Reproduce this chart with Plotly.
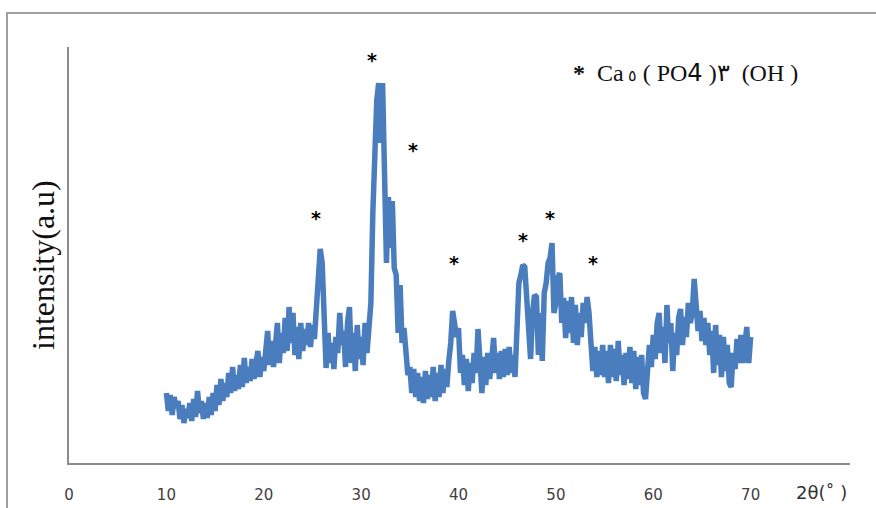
import plotly.graph_objects as go

# 2-theta grid (degrees), 0.2 step from 10 to 70
two_theta = [round(10 + 0.2 * i, 1) for i in range(301)]

# intensity (a.u.)
intensity = [
    # 10.0 - 14.8
    70, 52, 68, 48, 66, 55, 62, 44, 58, 40, 54, 45, 60, 42, 64, 46, 72, 50, 62, 44, 60, 45, 66, 48, 70,
    # 15.0 - 19.8
    52, 78, 58, 84, 62, 80, 66, 90, 70, 96, 72, 88, 74, 98, 76, 105, 80, 96, 82, 104, 84, 100, 112, 86, 106,
    # 20.0 - 24.8
    92, 118, 132, 98, 122, 96, 126, 140, 100, 130, 110, 145, 112, 156, 120, 150, 108, 136, 104, 140, 112, 134, 118, 140, 116,
    # 25.0 - 29.8
    138, 124, 158, 170, 214, 200, 150, 95, 130, 100, 120, 94, 126, 110, 150, 118, 132, 96, 140, 156, 100, 130, 92, 138, 104,
    # 30.0 - 34.8
    126, 98, 140, 110, 135, 160, 250, 330, 362, 380, 320, 380, 250, 200, 266, 215, 262, 195, 188, 130, 178, 120, 135, 105, 88,
    # 35.0 - 39.8
    96, 70, 94, 66, 90, 62, 86, 60, 92, 64, 88, 66, 96, 62, 90, 66, 98, 70, 94, 76, 102, 120, 152, 140, 126,
    # 40.0 - 44.8
    135, 90, 108, 78, 104, 72, 100, 80, 110, 90, 134, 96, 70, 106, 78, 110, 84, 102, 125, 90, 110, 84, 112, 86, 114,
    # 45.0 - 49.8
    88, 116, 90, 108, 86, 140, 180, 188, 198, 196, 160, 116, 104, 150, 168, 166, 108, 150, 102, 170, 180, 200, 205, 220, 150,
    # 50.0 - 54.8
    160, 185, 190, 140, 165, 125, 162, 130, 166, 120, 158, 118, 150, 126, 160, 140, 166, 150, 120, 92, 116, 86, 112, 88, 118,
    # 55.0 - 59.8
    86, 112, 80, 118, 86, 114, 82, 122, 88, 108, 78, 110, 84, 116, 80, 112, 74, 106, 78, 108, 70, 64, 100, 118, 96,
    # 60.0 - 64.8
    128, 104, 140, 150, 110, 136, 100, 158, 120, 140, 92, 130, 108, 145, 154, 118, 146, 126, 160, 140, 150, 184, 150, 132, 152,
    # 65.0 - 70.0
    122, 145, 118, 140, 108, 132, 90, 138, 98, 128, 86, 126, 92, 118, 80, 76, 110, 94, 124, 100, 128, 100, 122, 136, 100, 126,
]

# x-axis tick labels
x_ticks = [0, 10, 20, 30, 40, 50, 60, 70]

# peak markers (2-theta, label height)
peak_pos = [31.1, 35.3, 25.4, 39.5, 46.6, 49.4, 53.8]
peak_height = [406, 316, 248, 203, 226, 248, 203]

assert len(two_theta) == len(intensity)

fig = go.Figure()
fig.add_trace(go.Scatter(
    x=two_theta, y=intensity, mode="lines",
    line=dict(color="#4a7dbd", width=5.5),
    hoverinfo="skip", showlegend=False,
))

for px, py in zip(peak_pos, peak_height):
    fig.add_annotation(x=px, y=py, text="<b>*</b>", showarrow=False, yshift=-3,
                       font=dict(family="DejaVu Sans", size=19, color="#000000"))

fig.add_annotation(
    xref="paper", yref="paper", x=0.789, y=0.937,
    text="<b>*</b>  Ca<span style='font-size:16px'> ٥</span> ( PO<span style='font-family:DejaVu Sans'>4</span> )٣  (OH )",
    showarrow=False, xanchor="center", yanchor="middle",
    font=dict(family="Liberation Serif", size=24, color="#111111"))

fig.add_annotation(
    xref="paper", yref="paper", x=-0.0333, y=0.476,
    text="intensity(a.u)", textangle=-90, showarrow=False,
    xanchor="center", yanchor="middle",
    font=dict(family="Liberation Serif", size=32, color="#111111"))

fig.add_annotation(
    xref="paper", yref="paper", x=0.964, y=-0.072,
    text="2θ(˚ )", showarrow=False, xanchor="center", yanchor="middle",
    font=dict(family="DejaVu Sans", size=18, color="#333333"))

# outer frame
fig.add_shape(type="rect", xref="paper", yref="paper",
              x0=-0.0794, x1=1.2, y0=-0.3, y1=1.0817,
              line=dict(color="#a0a0a0", width=2))

fig.update_layout(
    width=876, height=508,
    margin=dict(l=69, r=26, t=47, b=45, autoexpand=False),
    paper_bgcolor="white", plot_bgcolor="white",
    xaxis=dict(range=[0, 80.2], tickvals=x_ticks, showgrid=False, zeroline=False,
               automargin=False,
               showline=True, linecolor="#8c8c8c", linewidth=1.5,
               ticks="outside", ticklen=17, tickcolor="rgba(0,0,0,0)",
               tickfont=dict(family="DejaVu Sans", size=15, color="#404040")),
    yaxis=dict(range=[0, 416], showgrid=False, zeroline=False, showticklabels=False,
               automargin=False,
               showline=True, linecolor="#8c8c8c", linewidth=1.5),
)

fig.write_html("out.html", config={"displayModeBar": False},
               post_script="document.body.style.margin='0';")
